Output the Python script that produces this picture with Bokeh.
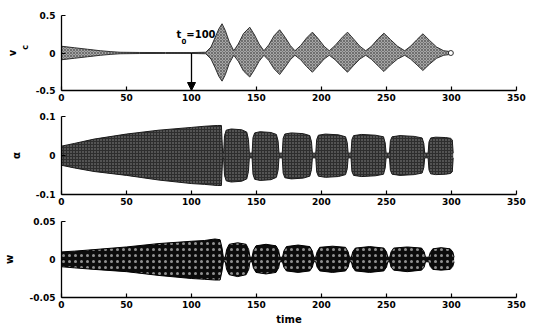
from bokeh.plotting import figure
from bokeh.layouts import column
from bokeh.models import Range1d, FixedTicker, Label, Arrow, NormalHead, LinearAxis
from bokeh.embed import file_html
from bokeh.resources import INLINE

# ---------------- data (envelopes) ----------------
x_ticks = [0, 50, 100, 150, 200, 250, 300, 350]

# v_c : upper / lower envelope of the oscillation
vc_t = [0, 5, 10, 20, 30, 38, 45, 60, 80, 100,
        111, 115, 118, 121, 123.5, 126, 129, 132.5,
        136, 140, 144.8, 148.5, 152, 155.7,
        159.5, 163.5, 167.8, 172, 176, 179.6,
        184, 188.5, 193, 197.5, 202, 206,
        210.5, 215.5, 220, 224.5, 229.5, 234,
        238.5, 243.5, 248, 253, 258.5, 264,
        268.5, 273.5, 278, 283, 288.5, 294, 298.7]
vc_hi = [0.09, 0.08, 0.07, 0.05, 0.03, 0.018, 0.01, 0.007, 0.006, 0.006,
         0.01, 0.08, 0.20, 0.32, 0.39, 0.30, 0.15, 0.03,
         0.12, 0.26, 0.344, 0.24, 0.12, 0.03,
         0.11, 0.23, 0.31, 0.21, 0.10, 0.03,
         0.10, 0.20, 0.278, 0.19, 0.09, 0.03,
         0.10, 0.20, 0.278, 0.19, 0.09, 0.03,
         0.09, 0.19, 0.264, 0.18, 0.09, 0.03,
         0.09, 0.18, 0.256, 0.17, 0.08, 0.03, 0.02]
vc_lo = [-0.09, -0.08, -0.07, -0.05, -0.03, -0.018, -0.01, -0.007, -0.006, -0.006,
         -0.01, -0.08, -0.19, -0.31, -0.375, -0.29, -0.14, -0.03,
         -0.11, -0.24, -0.32, -0.22, -0.11, -0.03,
         -0.10, -0.21, -0.287, -0.19, -0.09, -0.03,
         -0.09, -0.18, -0.256, -0.17, -0.08, -0.03,
         -0.09, -0.18, -0.256, -0.17, -0.08, -0.03,
         -0.085, -0.17, -0.247, -0.16, -0.08, -0.03,
         -0.08, -0.16, -0.233, -0.15, -0.07, -0.03, -0.02]
vc_end_t = [299.5]
vc_end_v = [0.0]

# alpha
alpha_t = [0, 10, 25, 50, 75, 100, 110, 120, 123, 123.5, 124,
           124.7, 125.4, 126.7, 130.6, 138.6, 142.5, 143.8, 144.5,
           146.6, 147.3, 148.6, 152.8, 161.1, 165.3, 166.6, 167.3,
           169.8, 170.5, 171.8, 176.8, 186, 191, 192.3, 193,
           195.6, 196.3, 197.6, 203, 213, 218.5, 219.8, 220.5,
           222.7, 223.4, 224.7, 230.8, 241.6, 247.7, 249, 249.7,
           252.3, 253, 254.3, 260.4, 271.3, 277.4, 278.7, 279.4,
           282, 282.7, 284, 287.8, 295.5, 299.3, 300.6, 301.3]
alpha_hi = [0.024, 0.031, 0.042, 0.055, 0.065, 0.072, 0.075, 0.077, 0.077, 0.04, 0.006,
            0.006, 0.051, 0.065, 0.068, 0.066, 0.060, 0.041, 0.006,
            0.006, 0.046, 0.058, 0.061, 0.059, 0.054, 0.037, 0.006,
            0.006, 0.044, 0.055, 0.058, 0.056, 0.051, 0.035, 0.006,
            0.006, 0.041, 0.052, 0.055, 0.053, 0.048, 0.033, 0.006,
            0.006, 0.041, 0.051, 0.054, 0.052, 0.048, 0.032, 0.006,
            0.006, 0.038, 0.048, 0.051, 0.049, 0.045, 0.031, 0.006,
            0.006, 0.035, 0.045, 0.047, 0.046, 0.044, 0.040, 0.006]
alpha_lo = [-0.025, -0.032, -0.041, -0.051, -0.063, -0.072, -0.074, -0.077, -0.077, -0.04, -0.006,
            -0.006, -0.051, -0.065, -0.068, -0.066, -0.060, -0.041, -0.006,
            -0.006, -0.048, -0.061, -0.064, -0.062, -0.056, -0.038, -0.006,
            -0.006, -0.045, -0.057, -0.060, -0.058, -0.053, -0.036, -0.006,
            -0.006, -0.042, -0.053, -0.056, -0.054, -0.049, -0.034, -0.006,
            -0.006, -0.041, -0.051, -0.054, -0.052, -0.048, -0.032, -0.006,
            -0.006, -0.038, -0.048, -0.051, -0.049, -0.045, -0.031, -0.006,
            -0.006, -0.037, -0.047, -0.049, -0.048, -0.046, -0.042, -0.006]

# w
w_t = [0, 10, 25, 50, 75, 100, 110, 118, 122, 123.5, 124.5,
       126, 127, 129, 135.5, 142, 144, 145,
       146.6, 147.6, 149.6, 157.3, 165, 167, 168,
       170, 171, 173, 182, 191, 193, 194,
       195.6, 196.6, 198.6, 208.5, 218.5, 220.5, 221.5,
       223, 224, 226, 237, 248, 250, 251,
       252.5, 253.5, 255.5, 266, 277, 279, 280,
       282.6, 283.6, 285.6, 292, 299, 301, 302]
w_hi = [0.010, 0.011, 0.013, 0.0165, 0.021, 0.024, 0.025, 0.027, 0.026, 0.015, 0.003,
        0.003, 0.013, 0.020, 0.022, 0.020, 0.013, 0.003,
        0.003, 0.012, 0.018, 0.020, 0.018, 0.012, 0.003,
        0.003, 0.011, 0.017, 0.019, 0.017, 0.011, 0.003,
        0.003, 0.010, 0.016, 0.0175, 0.016, 0.010, 0.003,
        0.003, 0.010, 0.015, 0.017, 0.015, 0.010, 0.003,
        0.003, 0.010, 0.015, 0.0165, 0.015, 0.010, 0.003,
        0.003, 0.009, 0.014, 0.0156, 0.014, 0.010, 0.003]
w_lo = [-0.0095, -0.011, -0.013, -0.016, -0.021, -0.025, -0.026, -0.027, -0.027, -0.015, -0.003,
        -0.003, -0.013, -0.020, -0.0225, -0.020, -0.013, -0.003,
        -0.003, -0.011, -0.017, -0.019, -0.017, -0.011, -0.003,
        -0.003, -0.010, -0.015, -0.017, -0.015, -0.010, -0.003,
        -0.003, -0.010, -0.015, -0.017, -0.015, -0.010, -0.003,
        -0.003, -0.010, -0.015, -0.017, -0.015, -0.010, -0.003,
        -0.003, -0.010, -0.014, -0.016, -0.014, -0.010, -0.003,
        -0.003, -0.009, -0.013, -0.014, -0.013, -0.009, -0.003]

vc_ticks = [-0.5, 0, 0.5]
vc_tick_labels = {-0.5: "-0.5", 0: "0", 0.5: "0.5"}
alpha_ticks = [-0.1, 0, 0.1]
alpha_tick_labels = {-0.1: "-0.1", 0: "0", 0.1: "0.1"}
w_ticks = [-0.05, 0, 0.05]
w_tick_labels = {-0.05: "-0.05", 0: "0", 0.05: "0.05"}

FONT = "DejaVu Sans"


def make_fig(h, top, bottom, yr, yticks, ylabels):
    p = figure(width=535, height=h, x_range=Range1d(0, 350), y_range=Range1d(*yr),
               output_backend="svg", toolbar_location=None,
               min_border_left=61, min_border_right=19,
               min_border_top=top, min_border_bottom=bottom)
    p.xgrid.visible = False
    p.ygrid.visible = False
    p.outline_line_color = None
    p.xaxis.ticker = FixedTicker(ticks=x_ticks)
    p.yaxis.ticker = FixedTicker(ticks=yticks)
    p.yaxis.major_label_overrides = ylabels
    for ax in (p.xaxis[0], p.yaxis[0]):
        ax.major_tick_in = 4
        ax.major_tick_out = 0
        ax.minor_tick_line_color = None
        ax.axis_line_color = "black"
        ax.axis_line_width = 1.3
        ax.major_tick_line_width = 1.2
        ax.major_label_text_font = FONT
        ax.major_label_text_font_style = "bold"
        ax.major_label_text_font_size = "9px"
        ax.major_label_text_color = "black"
        ax.axis_label_text_font = FONT
        ax.axis_label_text_font_style = "bold"
        ax.axis_label_text_color = "black"
    p.xaxis.major_label_standoff = 3
    p.yaxis.major_label_standoff = 6
    return p


# ---- top: v_c ----
p1 = make_fig(108, 15, 18, (-0.5, 0.5), vc_ticks, vc_tick_labels)
p1.varea(x=vc_t, y1=vc_lo, y2=vc_hi, fill_color="#a6a6a6",
         hatch_pattern="diagonal_cross", hatch_color="#4a4a4a",
         hatch_scale=3, hatch_weight=0.6)
p1.line(vc_t, vc_hi, line_color="#303030", line_width=1)
p1.line(vc_t, vc_lo, line_color="#303030", line_width=1)
p1.scatter(vc_end_t, vc_end_v, marker="circle", size=5, fill_color="white",
           line_color="#303030", line_width=1)
# y label "v" with subscript "c"
p1.yaxis.axis_label = "\u00a0\u00a0\u00a0\u00a0c"
p1.yaxis.axis_label_text_font_size = "8px"
p1.yaxis.axis_label_standoff = 3
outer = LinearAxis(axis_label="v", ticker=FixedTicker(ticks=[]),
                   axis_line_color=None, major_tick_line_color=None,
                   minor_tick_line_color=None, major_label_text_font_size="0px",
                   axis_label_standoff=0, axis_label_text_font=FONT,
                   axis_label_text_font_style="bold", axis_label_text_font_size="10px",
                   axis_label_text_color="black")
p1.add_layout(outer, "left")
p1.add_layout(Arrow(end=NormalHead(size=8, fill_color="black", line_color="black"),
                    x_start=100, y_start=0, x_end=100, y_end=-0.5,
                    line_color="black", line_width=1.3))
for x, y, t, s in [(88.5, 0.17, "t", "10px"), (92.3, 0.12, "0", "7px"), (96.0, 0.17, "=100", "10px")]:
    p1.add_layout(Label(x=x, y=y, text=t, text_font=FONT, text_font_style="bold",
                        text_font_size=s, text_baseline="bottom", text_align="left",
                        text_color="black"))

# ---- middle: alpha ----
p2 = make_fig(102, 8, 16, (-0.1, 0.1), alpha_ticks, alpha_tick_labels)
p2.varea(x=alpha_t, y1=alpha_lo, y2=alpha_hi, fill_color="#2e2e2e",
         hatch_pattern="dot", hatch_color="#8c8c8c", hatch_scale=3, hatch_weight=0.8)
p2.line(alpha_t, alpha_hi, line_color="#1a1a1a", line_width=1)
p2.line(alpha_t, alpha_lo, line_color="#1a1a1a", line_width=1)
p2.yaxis.axis_label = "α"
p2.yaxis.axis_label_text_font_size = "10px"
p2.yaxis.axis_label_standoff = 11

# ---- bottom: w ----
p3 = make_fig(117, 11, 30, (-0.05, 0.05), w_ticks, w_tick_labels)
p3.varea(x=w_t, y1=w_lo, y2=w_hi, fill_color="#0c0c0c",
         hatch_pattern="dot", hatch_color="#ffffff", hatch_scale=6,
         hatch_weight=1.5, hatch_alpha=0.55)
p3.line(w_t, w_hi, line_color="black", line_width=1)
p3.line(w_t, w_lo, line_color="black", line_width=1)
p3.yaxis.axis_label = "w"
p3.yaxis.axis_label_text_font_size = "10px"
p3.yaxis.axis_label_standoff = 12
p3.xaxis.axis_label = "time"
p3.xaxis.axis_label_text_font_size = "10px"
p3.xaxis.axis_label_standoff = 3

layout = column(p1, p2, p3, spacing=0)
open("out.html", "w").write(file_html(layout, INLINE))
